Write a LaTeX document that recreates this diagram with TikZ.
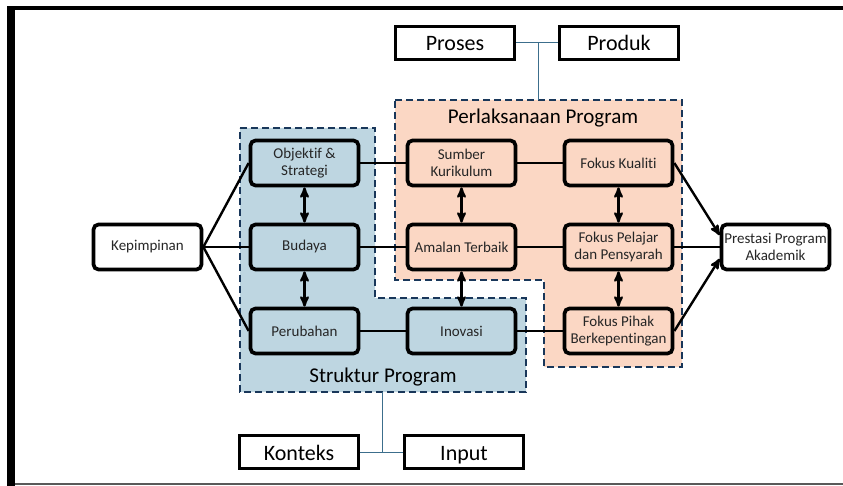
\documentclass[tikz,border=0pt]{standalone}
\usepackage{fontspec}
\setmainfont{Carlito}[Ligatures=NoCommon]
\usetikzlibrary{arrows}

\definecolor{biru}{RGB}{190,214,225}
\definecolor{oren}{RGB}{251,215,196}
\definecolor{garis}{RGB}{25,55,90}
\definecolor{sambung}{RGB}{60,110,140}

\begin{document}
\begin{tikzpicture}[x=1pt,y=-1pt,>=stealth',
  blok/.style={draw,line width=3.7pt,rounded corners=5pt,minimum width=108pt,minimum height=45pt,
    align=center,inner sep=1pt,text=black!85,font=\fontsize{15}{16.5}\selectfont},
  kotak/.style={draw,line width=3.7pt,minimum width=119pt,minimum height=33pt,fill=white,
    text height=17pt,text depth=1pt,font=\fontsize{22}{23}\selectfont},
  zon/.style={draw=garis,line width=2pt,dash pattern=on 7pt off 4pt},
  tajuk/.style={font=\fontsize{21}{22}\selectfont},
  garisan/.style={line width=2.4pt}]

\useasboundingbox (0,0) rectangle (843,486);
% frame
\fill (7,6) rectangle (15,486);
\fill (7,6) rectangle (843,10);
\draw[gray!70!black,line width=1.5pt] (15,484) -- (843,484);

% regions
\fill[oren] (395,100) -- (682,100) -- (682,367) -- (544,367) -- (544,280) -- (395,280) -- cycle;
\fill[biru] (240,128) -- (375,128) -- (375,298) -- (526,298) -- (526,392) -- (240,392) -- cycle;
\draw[zon] (395,100) -- (682,100) -- (682,367) -- (544,367) -- (544,280) -- (395,280) -- cycle;
\draw[zon] (240,128) -- (375,128) -- (375,298) -- (526,298) -- (526,392) -- (240,392) -- cycle;

\node[tajuk] (plk) at (543,118) {Perlaksanaan Program};
\node[tajuk] (stk) at (383,377) {Struktur Program};

% nodes
\node[blok,fill=biru] (obj) at (304.5,163) {Objektif \&\\Strategi};
\node[blok,fill=biru] (bud) at (304.5,247) {Budaya};
\node[blok,fill=biru] (per) at (304.5,331) {Perubahan};
\node[blok,fill=oren] (sum) at (461.5,163) {Sumber\\Kurikulum};
\node[blok,fill=oren] (ama) at (461.5,247) {Amalan Terbaik};
\node[blok,fill=biru] (ino) at (461.5,331) {Inovasi};
\node[blok,fill=oren] (kua) at (618.5,163) {Fokus Kualiti};
\node[blok,fill=oren] (pel) at (618.5,247) {Fokus Pelajar\\dan Pensyarah};
\node[blok,fill=oren] (pih) at (618.5,331) {Fokus Pihak\\Berkepentingan};
\node[blok,fill=white] (kep) at (147.5,247) {Kepimpinan};
\node[blok,fill=white] (pres) at (775.5,247) {Prestasi Program\\Akademik};

\node[kotak] (pros) at (455,43) {Proses};
\node[kotak] (prod) at (619,43) {Produk};
\node[kotak] (kont) at (299,452) {Konteks};
\node[kotak] (inp) at (464,452) {Input};

\coordinate (plTop) at (538,100);
\coordinate (plSam) at (538,43);
\coordinate (stBaw) at (382,392);
\coordinate (stSam) at (382,452);

% connectors
\path[garisan] (kep.east) edge (obj.west)
               (kep.east) edge (bud.west)
               (kep.east) edge (per.west)
               (obj) edge (sum)
               (sum) edge (kua)
               (bud) edge (ama)
               (ama) edge (pel)
               (per) edge (ino)
               (ino) edge (pih)
               (pel) edge (pres);
\path[garisan,->] (kua.east) edge (pres.168)
                  (pih.east) edge (pres.192);
\path[garisan,<->] (obj) edge (bud)
                   (bud) edge (per)
                   (sum) edge (ama)
                   (ama) edge (ino)
                   (kua) edge (pel)
                   (pel) edge (pih);

\draw[sambung,line width=1pt] (pros) -- (prod) (plSam) -- (plTop);
\draw[sambung,line width=1pt] (kont) -- (inp) (stSam) -- (stBaw);

\end{tikzpicture}
\end{document}
